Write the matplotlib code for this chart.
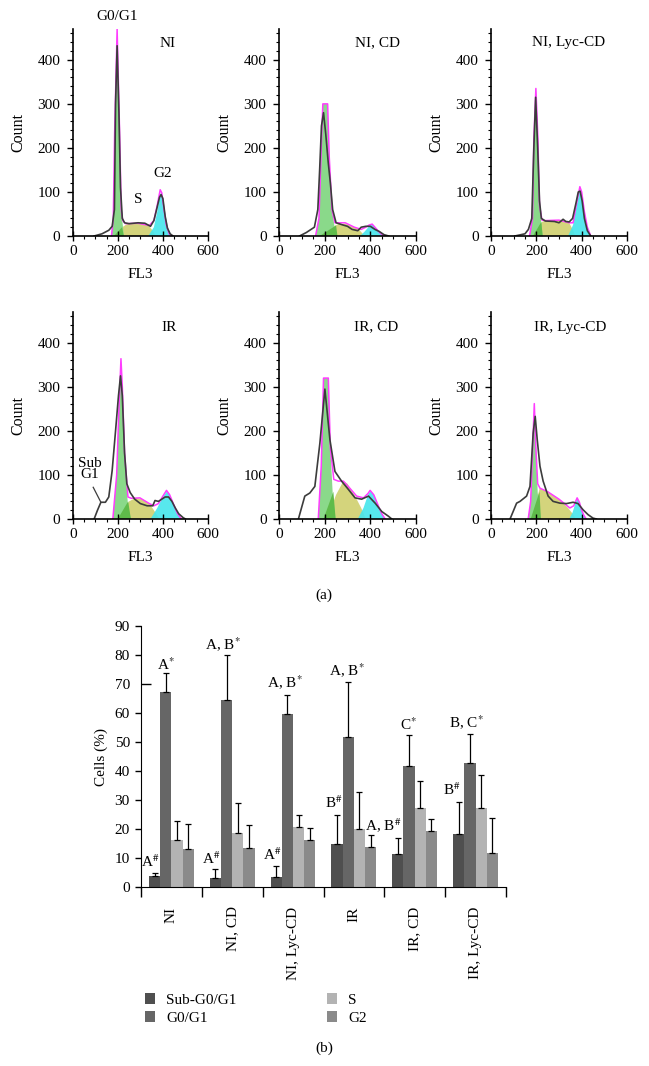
import numpy as np
import matplotlib
matplotlib.use("Agg")
import matplotlib.pyplot as plt
from matplotlib.ticker import MultipleLocator, FixedLocator, StrMethodFormatter

plt.rcParams['font.family'] = ['Liberation Serif', 'DejaVu Serif']
plt.rcParams['mathtext.fontset'] = 'stix'

W, H = 649, 1066

# ---- (a) flow cytometry histograms: points (FL3, count)
titles = ['NI', 'NI, CD', 'NI, Lyc-CD', 'IR', 'IR, CD', 'IR, Lyc-CD']
title_pos = [(423, 438), (431, 439), (341, 439), (427, 434), (425, 436), (348, 434)]

raw_x = [
    [95, 130, 160, 175, 185, 190, 197, 205, 212, 220, 230, 250, 290, 320, 345, 360, 372, 385, 392, 400, 410, 420, 432, 445],
    [90, 120, 155, 170, 178, 186, 195, 205, 215, 225, 235, 250, 280, 300, 320, 345, 360, 380, 400, 420, 440, 460, 480],
    [105, 150, 165, 180, 189, 197, 206, 214, 222, 240, 280, 300, 318, 330, 345, 360, 375, 385, 393, 402, 412, 425, 440],
    [95, 110, 125, 145, 160, 175, 190, 203, 212, 220, 230, 240, 255, 275, 300, 330, 355, 365, 380, 395, 410, 425, 440, 455, 470, 490, 500],
    [85, 113, 135, 157, 179, 201, 223, 245, 274, 304, 333, 362, 392, 421, 450, 480, 494],
    [84, 113, 128, 157, 172, 186, 195, 204, 216, 230, 252, 274, 304, 333, 362, 384, 406, 428, 450, 465],
]
raw_y = [
    [0, 5, 13, 22, 60, 300, 432, 280, 110, 40, 30, 28, 30, 29, 22, 35, 60, 88, 94, 85, 45, 18, 5, 0],
    [0, 8, 20, 60, 150, 250, 280, 230, 170, 120, 60, 30, 25, 22, 15, 12, 20, 22, 22, 15, 10, 3, 0],
    [0, 5, 15, 40, 200, 315, 200, 80, 40, 34, 33, 30, 38, 33, 32, 40, 75, 100, 102, 80, 40, 12, 0],
    [0, 20, 38, 38, 50, 110, 200, 280, 325, 280, 150, 80, 60, 45, 35, 30, 30, 42, 40, 45, 50, 50, 40, 25, 12, 3, 0],
    [0, 52, 59, 74, 172, 295, 180, 108, 86, 67, 48, 45, 52, 36, 17, 6, 0],
    [0, 36, 40, 52, 74, 195, 233, 180, 120, 86, 52, 40, 36, 35, 38, 35, 21, 10, 2, 0],
]

fit_x = [
    [172, 180, 186, 197, 208, 215, 222, 235, 290, 340, 360, 375, 388, 395, 405, 415, 428, 440],
    [160, 175, 185, 192, 213, 220, 232, 245, 255, 290, 330, 360, 380, 395, 408, 420, 440, 460],
    [170, 183, 189, 198, 207, 214, 225, 240, 300, 345, 362, 378, 392, 400, 412, 425, 440],
    [178, 195, 205, 214, 220, 230, 245, 260, 298, 340, 360, 380, 400, 416, 430, 450, 465, 482],
    [172, 185, 195, 198, 216, 225, 240, 260, 282, 310, 340, 370, 390, 399, 415, 435, 450, 465],
    [164, 175, 183, 191, 198, 206, 216, 250, 300, 348, 365, 380, 390, 400, 410, 420],
]
fit_y = [
    [0, 40, 235, 470, 235, 60, 35, 28, 29, 24, 35, 70, 105, 98, 60, 25, 5, 0],
    [0, 40, 200, 300, 300, 180, 60, 30, 30, 30, 20, 15, 20, 25, 27, 20, 8, 0],
    [0, 40, 220, 335, 220, 70, 36, 35, 36, 30, 30, 75, 112, 100, 55, 20, 0],
    [0, 100, 250, 364, 300, 150, 50, 47, 48, 35, 30, 35, 52, 65, 55, 30, 12, 0],
    [0, 120, 320, 320, 320, 160, 90, 86, 86, 70, 52, 48, 58, 65, 55, 30, 12, 0],
    [0, 40, 150, 262, 160, 80, 70, 62, 45, 25, 30, 48, 38, 20, 8, 0],
]

g1_x = [
    [172, 180, 186, 197, 208, 215, 227],
    [160, 175, 185, 192, 213, 220, 232, 245, 255],
    [170, 183, 189, 198, 207, 214, 228],
    [178, 195, 205, 214, 220, 230, 245, 258],
    [172, 185, 195, 198, 216, 225, 235, 248],
    [164, 175, 183, 191, 199, 206, 220],
]
g1_y = [
    [0, 40, 235, 468, 235, 60, 0],
    [0, 40, 200, 300, 300, 180, 60, 15, 0],
    [0, 40, 220, 335, 220, 70, 0],
    [0, 100, 250, 362, 300, 150, 30, 0],
    [0, 120, 320, 320, 320, 160, 60, 0],
    [0, 40, 150, 262, 160, 60, 0],
]

# overlap of G0/G1 and S (darker green wedge)
ov_x = [[183, 219, 227], [178, 250, 256], [185, 222, 228], [200, 246, 258], [195, 238, 248], [175, 214, 220]]
ov_y = [[0, 20, 0], [0, 24, 0], [0, 32, 0], [0, 40, 0], [0, 62, 0], [0, 62, 0]]

s_x = [
    [185, 215, 240, 300, 335, 355, 368],
    [185, 225, 260, 290, 320, 350, 375],
    [190, 225, 240, 300, 345, 360, 372],
    [200, 250, 280, 310, 340, 360, 385],
    [210, 250, 282, 300, 330, 360, 380],
    [180, 215, 250, 300, 340, 360, 375],
]
s_y = [
    [0, 18, 27, 29, 25, 12, 0],
    [0, 18, 27, 28, 22, 15, 0],
    [0, 32, 35, 36, 30, 15, 0],
    [0, 40, 48, 45, 35, 20, 0],
    [0, 55, 86, 80, 55, 25, 0],
    [0, 70, 62, 45, 25, 12, 0],
]

g2_x = [
    [335, 360, 375, 388, 393, 400, 412, 425, 440],
    [355, 375, 395, 408, 420, 440, 460],
    [340, 362, 378, 392, 400, 412, 425, 440],
    [345, 375, 400, 418, 430, 450, 465, 482],
    [345, 370, 390, 400, 415, 435, 450, 465],
    [345, 360, 372, 380, 390, 400, 410, 420],
]
g2_y = [
    [0, 20, 55, 95, 98, 85, 45, 15, 0],
    [0, 10, 22, 27, 20, 8, 0],
    [0, 25, 70, 105, 95, 55, 20, 0],
    [0, 25, 50, 63, 55, 30, 12, 0],
    [0, 25, 55, 63, 55, 30, 12, 0],
    [0, 15, 35, 45, 38, 20, 8, 0],
]

# ---- (b) cell cycle distribution (%)
groups = ['NI', 'NI, CD', 'NI, Lyc-CD', 'IR', 'IR, CD', 'IR, Lyc-CD']
phases = ['Sub-G0/G1', 'G0/G1', 'S', 'G2']
sub_g1 = [3.8, 3.1, 3.4, 15.0, 11.4, 18.3]
g0_g1 = [67.2, 64.4, 59.5, 51.7, 41.8, 42.7]
s_phase = [16.2, 18.7, 20.6, 19.9, 27.4, 27.1]
g2_phase = [13.1, 13.4, 16.1, 13.9, 19.3, 11.7]
sub_g1_err = [1.1, 3.0, 3.9, 10.0, 5.5, 10.9]
g0_g1_err = [6.5, 15.7, 6.7, 19.0, 10.6, 10.1]
s_phase_err = [6.6, 10.3, 4.4, 12.7, 9.3, 11.5]
g2_phase_err = [8.5, 8.0, 4.1, 3.9, 4.0, 12.2]
bar_colors = ['#4f4f4f', '#666666', '#b3b3b3', '#8a8a8a']

notes = ['A$^{\\#}$', 'A$^{*}$', 'A, B$^{*}$', 'A$^{\\#}$', 'A, B$^{*}$', 'A$^{\\#}$',
         'B$^{\\#}$', 'A, B$^{*}$', 'A, B$^{\\#}$', 'C$^{*}$', 'B$^{\\#}$', 'B, C$^{*}$']
note_x = [0.16, 0.41, 1.35, 1.15, 2.37, 2.15, 3.17, 3.38, 3.98, 4.39, 5.11, 5.35]
note_y = [7.0, 74.8, 81.5, 7.9, 68.6, 9.3, 27.2, 72.8, 19.1, 54.1, 31.7, 54.9]


def add_ax(fig, left, top, right, bottom):
    return fig.add_axes([left / W, 1 - bottom / H, (right - left) / W, (bottom - top) / H])


fig = plt.figure(figsize=(W / 100, H / 100), dpi=100)

cols = [(72.7, 208), (279, 416), (491, 627)]
rows = [(29, 236), (312, 519)]

for i in range(6):
    l, r = cols[i % 3]
    t, b = rows[i // 3]
    ax = add_ax(fig, l, t, r, b)
    ax.fill(s_x[i], s_y[i], color='#d4d47c', lw=0)
    ax.fill(g1_x[i], g1_y[i], color='#8ad98a', lw=0)
    ax.fill(ov_x[i], ov_y[i], color='#5fbb4a', lw=0)
    ax.fill(g2_x[i], g2_y[i], color='#45e6ec', lw=0, alpha=0.9)
    ax.plot(fit_x[i], fit_y[i], color='#ff3cff', lw=1.1)
    ax.plot(raw_x[i], raw_y[i], color='#3c3c3c', lw=1.2)

    ax.set_xlim(0, 600)
    ax.set_ylim(0, 470)
    ax.xaxis.set_major_locator(MultipleLocator(200))
    ax.xaxis.set_minor_locator(MultipleLocator(50))
    ax.yaxis.set_major_locator(FixedLocator([0, 100, 200, 300, 400]))
    ax.yaxis.set_minor_locator(MultipleLocator(20))
    for side in ['top', 'right']:
        ax.spines[side].set_visible(False)
    ax.spines['left'].set_linewidth(1.2)
    ax.spines['bottom'].set_linewidth(1.2)
    ax.tick_params(which='major', length=4, width=1, labelsize=11, pad=5)
    ax.tick_params(axis='x', which='major', direction='inout', length=7, pad=3)
    ax.tick_params(which='minor', length=2.5, width=0.8)
    ax.set_xlabel('FL3', fontsize=11, labelpad=7)
    ax.set_ylabel('Count', fontsize=11.5, labelpad=8)
    ax.patch.set_alpha(0)

    # titles, in pixel positions
    tx, ty = title_pos[i]
    ax.text(tx, ty, titles[i], ha='center', va='center', fontsize=11)

    if i == 0:
        ax.text(195, 498, 'G0/G1', ha='center', va='center', fontsize=11, clip_on=False)
        ax.text(398, 142, 'G2', ha='center', va='center', fontsize=11)
        ax.text(290, 82, 'S', ha='center', va='center', fontsize=11)
    if i == 3:
        ax.text(74, 127, 'Sub', ha='center', va='center', fontsize=11)
        ax.text(74, 100, 'G1', ha='center', va='center', fontsize=11)
        ax.plot([91, 125], [72, 38], color='#3c3c3c', lw=0.9)

fig.text(324 / W, 1 - 595 / H, '(a)', ha='center', va='center', fontsize=11)

# ---- bar chart
axb = add_ax(fig, 141, 626, 506, 887)
vals = [sub_g1, g0_g1, s_phase, g2_phase]
errs = [sub_g1_err, g0_g1_err, s_phase_err, g2_phase_err]
bw = 0.184
x0 = np.arange(len(groups)) + 0.131 + bw / 2
for k in range(4):
    xs = x0 + k * bw
    axb.bar(xs, vals[k], width=bw, color=bar_colors[k], label=phases[k], zorder=2)
    axb.errorbar(xs, vals[k], yerr=[np.zeros(6), errs[k]], fmt='none', ecolor='black',
                 elinewidth=0.9, capsize=2.2, capthick=0.9, zorder=3)

for txt, xx, yy in zip(notes, note_x, note_y):
    axb.text(xx, yy, txt, ha='center', va='baseline', fontsize=11)

axb.set_xlim(0, 6)
axb.set_ylim(0, 90)
# the 70 tick is drawn inside the axis in the original
axb.yaxis.set_major_locator(FixedLocator([0, 10, 20, 30, 40, 50, 60, 80, 90]))
axb.yaxis.set_minor_locator(FixedLocator([70]))
axb.yaxis.set_minor_formatter(StrMethodFormatter('{x:.0f}'))
axb.set_xticks(np.arange(6) + 0.5)
axb.set_xticklabels(groups, rotation=90, fontsize=11)
axb.set_xticks(np.arange(0, 7), minor=True)
axb.tick_params(axis='x', which='major', length=0, pad=14)
axb.tick_params(axis='x', which='minor', length=7, width=1)
axb.tick_params(axis='y', which='major', length=4, width=1, labelsize=11, pad=4)
axb.tick_params(axis='y', which='minor', direction='in', length=7, width=1, labelsize=11,
                pad=8, labelleft=True)
for side in ['top', 'right']:
    axb.spines[side].set_visible(False)
axb.set_ylabel('Cells (%)', fontsize=11, labelpad=5)

axb.legend(loc='upper left', bbox_to_anchor=(137 / W, 1 - 985 / H), bbox_transform=fig.transFigure,
           ncol=2, frameon=False, fontsize=11, handlelength=0.7, handleheight=0.75,
           handletextpad=0.7, columnspacing=5.9, labelspacing=0.3, borderpad=0)

fig.text(324 / W, 1 - 1048 / H, '(b)', ha='center', va='center', fontsize=11)

fig.savefig('out.png', dpi=100)
